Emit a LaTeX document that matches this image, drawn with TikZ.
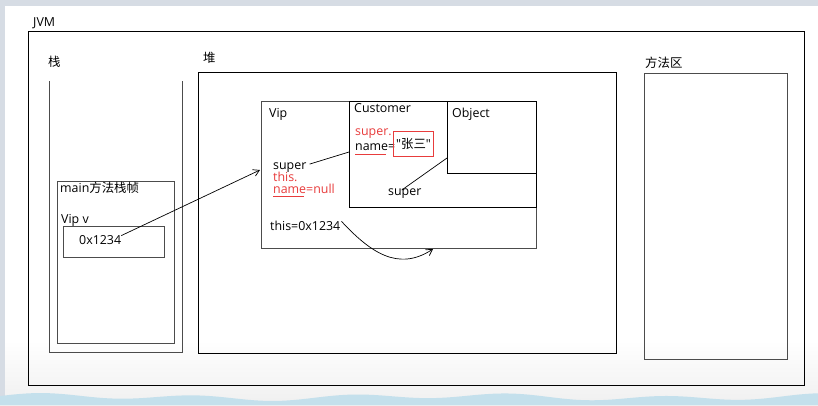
\documentclass[tikz,border=0pt]{standalone}
\usepackage{fontspec}
\setmainfont{Open Sans}
\newfontfamily\cjk{Noto Sans CJK SC}
\usetikzlibrary{arrows.meta}
\definecolor{redt}{RGB}{232,60,60}
\definecolor{bandblue}{RGB}{196,224,236}
\definecolor{edgegray}{RGB}{214,220,228}
\begin{document}
\begin{tikzpicture}[x=1pt,y=-1pt,
  lbl/.style={anchor=base west, inner sep=0pt, font=\fontsize{12.4}{14}\selectfont},
  rlbl/.style={lbl, text=redt},
  box/.style={draw, line width=0.9pt},
  gbox/.style={draw=black!70, line width=0.9pt},
  conn/.style={line width=0.7pt},
  tip/.style={-{Straight Barb[length=6pt,width=7pt]}}
]
\useasboundingbox (0,0) rectangle (818,405);
% screenshot background
\fill[white] (0,0) rectangle (818,405);
\shade[top color=white, bottom color=black!6] (0,340) rectangle (818,405);
\fill[edgegray] (0,0) rectangle (818,6);
\fill[edgegray] (0,0) rectangle (5,405);
\fill[bandblue] (0,405) -- plot[domain=0:818, samples=120, smooth] (\x,{397-2.5*sin(\x*2.3)-1.5*sin(\x*0.9+40)}) -- (818,405) -- cycle;

% JVM
\node[lbl] (jvmlbl) at (33,26) {JVM};
\draw[box] (28,31) rectangle (804,385);

% stack
\node[lbl] (stacklbl) at (48,66) {\cjk 栈};
\draw[gbox] (49,81) -- (49,352) -- (182,352) -- (182,81);
\draw[gbox] (57,181) rectangle (174,343);
\node[lbl] (mainlbl) at (60,192) {main{\cjk 方法栈帧}};
\node[lbl] (vipv) at (61,223) {Vip v};
\draw[gbox] (63,226) rectangle (164,257);
\node[lbl] (addr) at (79,244) {0x1234};

% heap
\node[lbl] (heaplbl) at (203,62) {\cjk 堆};
\draw[box] (198,72) rectangle (616,353);
\draw[gbox] (261,101) rectangle (536,248);
\draw[box] (349,101) rectangle (536,207);
\draw[box] (447,101) rectangle (536,173);
\node[lbl] (viplbl) at (269,117) {Vip};
\node[lbl] (custlbl) at (354,112) {Customer};
\node[lbl] (objlbl) at (452,117) {Object};

% Vip part
\node[lbl] (vsuper) at (273,169) {super};
\node[rlbl] (vthis) at (273,181) {this.};
\node[rlbl] (vname) at (273,193) {name=null};
\draw[redt, line width=0.7pt] (273,196) -- (304,196);
\node[lbl] (thisaddr) at (270,230) {this=0x1234};

% Customer part
\node[rlbl] (csuper) at (355,135) {super.};
\node[lbl] (cname) at (355,150) {name=};
\draw[redt, line width=0.7pt] (355,154) -- (386,154);
\draw[redt, line width=0.8pt] (393,131) rectangle (433,156);
\node[lbl] (zs) at (396,148) {\textquotedbl{\cjk 张三}\textquotedbl};
\node[lbl] (csuper2) at (388,195) {super};

% connectors
\coordinate (custin) at (349,152);
\coordinate (objin) at (447,158);
\coordinate (vipin) at (260,170);
\coordinate (thisend) at (433,249);
\draw[conn] (vsuper.east) ++(3,-3) coordinate (vs) -- (custin);
\draw[conn] (csuper2.north) ++(-3,2) coordinate (cs) -- (objin);
\draw[conn, tip] (addr.east) ++(0,-4) coordinate (ad) -- (vipin);
\draw[conn, tip] (thisaddr.east) ++(1,-4) coordinate (ta) .. controls (370,252) and (398,272) .. (thisend);

% method area
\node[lbl] (mlbl) at (645,67) {\cjk 方法区};
\draw[gbox] (644,73) rectangle (787,359);
\end{tikzpicture}
\end{document}
